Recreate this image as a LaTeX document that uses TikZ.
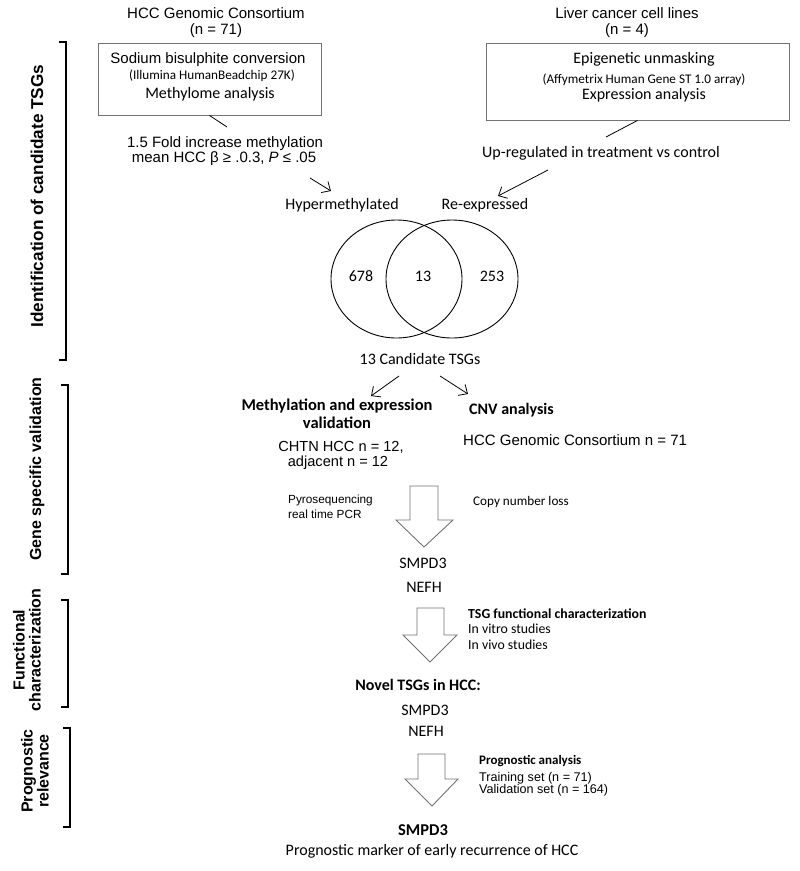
\documentclass[tikz,border=0pt]{standalone}
\usepackage{fontspec}
\setmainfont{Liberation Sans}
\newfontfamily\calfont{Carlito}
\usetikzlibrary{arrows.meta}
\newcommand{\fsz}[1]{\fontsize{#1}{#1}\selectfont}
\tikzset{
  t/.style={inner sep=0pt, anchor=mid},
  tl/.style={inner sep=0pt, anchor=mid west},
  hv/.style={font=\fsz{15}},
  cb/.style={font=\calfont\fsz{16}},
  cbb/.style={font=\calfont\bfseries\fsz{16.5}},
  cs/.style={font=\calfont\fsz{13.2}},
  side/.style={inner sep=0pt, rotate=90, align=center, font=\bfseries\fsz{16}},
  bracket/.style={line width=2.2pt},
  grbox/.style={draw=black!55, line width=0.9pt, inner sep=0pt},
  arr/.style={-{Straight Barb[length=7pt,width=13pt]}, line width=0.8pt},
  ln/.style={line width=0.8pt},
  blk/.style={draw=black!55, line width=0.9pt, fill=white},
  venn/.style={line width=0.9pt}
}
\begin{document}
\begin{tikzpicture}[x=1pt,y=-1pt]
\useasboundingbox[fill=white] (0,0) rectangle (800,871);

% side brackets and labels
\draw[bracket] (59,42) -- (66,42) -- (66,360) -- (59,360);
\draw[bracket] (61,385) -- (68,385) -- (68,574) -- (61,574);
\draw[bracket] (61,600) -- (68,600) -- (68,707) -- (61,707);
\draw[bracket] (63,728) -- (70,728) -- (70,827) -- (63,827);
\node[side, font=\bfseries\fsz{17.2}] (s1) at (37,196) {Identification of candidate TSGs};
\node[side] (s2) at (37,469) {Gene specific validation};
\node[side] (s3) at (27,650) {Functional\\characterization};
\node[side] (s4) at (35,771) {Prognostic\\relevance};

% top sources
\node[t,hv] (hgc) at (216,16) {HCC Genomic Consortium};
\node[t,hv] (hgcn) at (216,32) {(n = 71)};
\node[t,hv] (lcc) at (627,16) {Liver cancer cell lines};
\node[t,hv] (lccn) at (627,32) {(n = 4)};

% boxes
\node[grbox, minimum width=223pt, minimum height=72pt] (lbox) at (209.5,79) {};
\node[t,hv] (l1) at (208,61) {Sodium bisulphite conversion};
\node[t,cs] (l2) at (212,77) {(Illumina HumanBeadchip 27K)};
\node[t,cb] (l3) at (210,96) {Methylome analysis};

\node[grbox, minimum width=303pt, minimum height=77pt] (rbox) at (637.5,81.5) {};
\node[t,cb] (r1) at (644,61) {Epigenetic unmasking};
\node[t,cs] (r2) at (644,81) {(Affymetrix Human Gene ST 1.0 array)};
\node[t,cb] (r3) at (644,97) {Expression analysis};

% criteria
\node[t,hv] (f1) at (225,145) {1.5 Fold increase methylation};
\node[t,hv] (f2) at (224,160) {mean HCC β ≥ .0.3, \textit{P} ≤ .05};
\node[t,cb] (up) at (601,155) {Up-regulated in treatment vs control};

\coordinate (le) at (227,127);
\coordinate (re) at (606,137);
\draw[ln] (lbox.south) -- (le);
\draw[ln] (rbox.south) -- (re);

% venn
\node[t,cb] (hyper) at (342,207) {Hypermethylated};
\node[t,cb] (reexp) at (485,207) {Re-expressed};
\coordinate (a1s) at (310,178);
\coordinate (a1e) at (331,191);
\coordinate (a2s) at (548,170);
\coordinate (a2e) at (498,196);
\draw[arr] (a1s) -- (a1e);
\draw[arr] (a2s) -- (a2e);

\draw[venn] (396.5,279) ellipse [x radius=65.5, y radius=59];
\draw[venn] (452,279) ellipse [x radius=66, y radius=59];
\node[t,cb] (n1) at (361,279) {678};
\node[t,cb] (n2) at (423,279) {13};
\node[t,cb] (n3) at (492,279) {253};
\node[t,cb] (cand) at (420,362) {13 Candidate TSGs};

\coordinate (c1s) at (399,376);
\coordinate (c1e) at (371,396);
\coordinate (c2s) at (440,376);
\coordinate (c2e) at (468,394);
\draw[arr] (c1s) -- (c1e);
\draw[arr] (c2s) -- (c2e);

% validation
\node[t,cbb] (mv1) at (337,408) {Methylation and expression};
\node[t,cbb] (mv2) at (337,426) {validation};
\node[t,font=\fsz{14.6}] (ch1) at (341,449) {CHTN HCC n = 12,};
\node[t,font=\fsz{14.6}] (ch2) at (338,463.5) {adjacent n = 12};
\node[tl,font=\calfont\bfseries\fsz{16}] (cnv) at (469,412) {CNV analysis};
\node[tl,hv] (cnv2) at (463,443) {HCC Genomic Consortium n = 71};

\node[tl,font=\fsz{11.8}] (py1) at (288,501) {Pyrosequencing};
\node[tl,font=\fsz{11.8}] (py2) at (288,516) {real time PCR};
\node[t,font=\calfont\fsz{13.2}] (cpl) at (521,503) {Copy number loss};

\draw[blk] (410,486) -- (438,486) -- (438,520) -- (453,520) -- (424,547) -- (396,520) -- (410,520) -- cycle;

\node[t,cb] (sm1) at (423,566) {SMPD3};
\node[t,cb] (ne1) at (424,590) {NEFH};

\draw[blk] (417,608) -- (444,608) -- (444,635) -- (457,635) -- (430,662) -- (403,635) -- (417,635) -- cycle;
\node[tl,font=\calfont\bfseries\fsz{13.8}] (tf1) at (468,616) {TSG functional characterization};
\node[tl,font=\calfont\fsz{13.8}] (tf2) at (468,631) {In vitro studies};
\node[tl,font=\calfont\fsz{13.8}] (tf3) at (468,647) {In vivo studies};

\node[t,font=\calfont\bfseries\fsz{16}] (nov) at (418,688) {Novel TSGs in HCC:};
\node[t,cb] (sm2) at (425,713) {SMPD3};
\node[t,cb] (ne2) at (426,734) {NEFH};

\draw[blk] (418,754) -- (445,754) -- (445,779) -- (458,779) -- (432,806) -- (405,779) -- (418,779) -- cycle;
\node[tl,font=\calfont\bfseries\fsz{13}] (pa1) at (479,762) {Prognostic analysis};
\node[tl,font=\fsz{12.6}] (pa2) at (479,779) {Training set (n = 71)};
\node[tl,font=\fsz{12.6}] (pa3) at (479,791) {Validation set (n = 164)};

\node[t,cbb] (sm3) at (423,833) {SMPD3};
\node[t,cb] (pm) at (432,853) {Prognostic marker of early recurrence of HCC};
\end{tikzpicture}
\end{document}
